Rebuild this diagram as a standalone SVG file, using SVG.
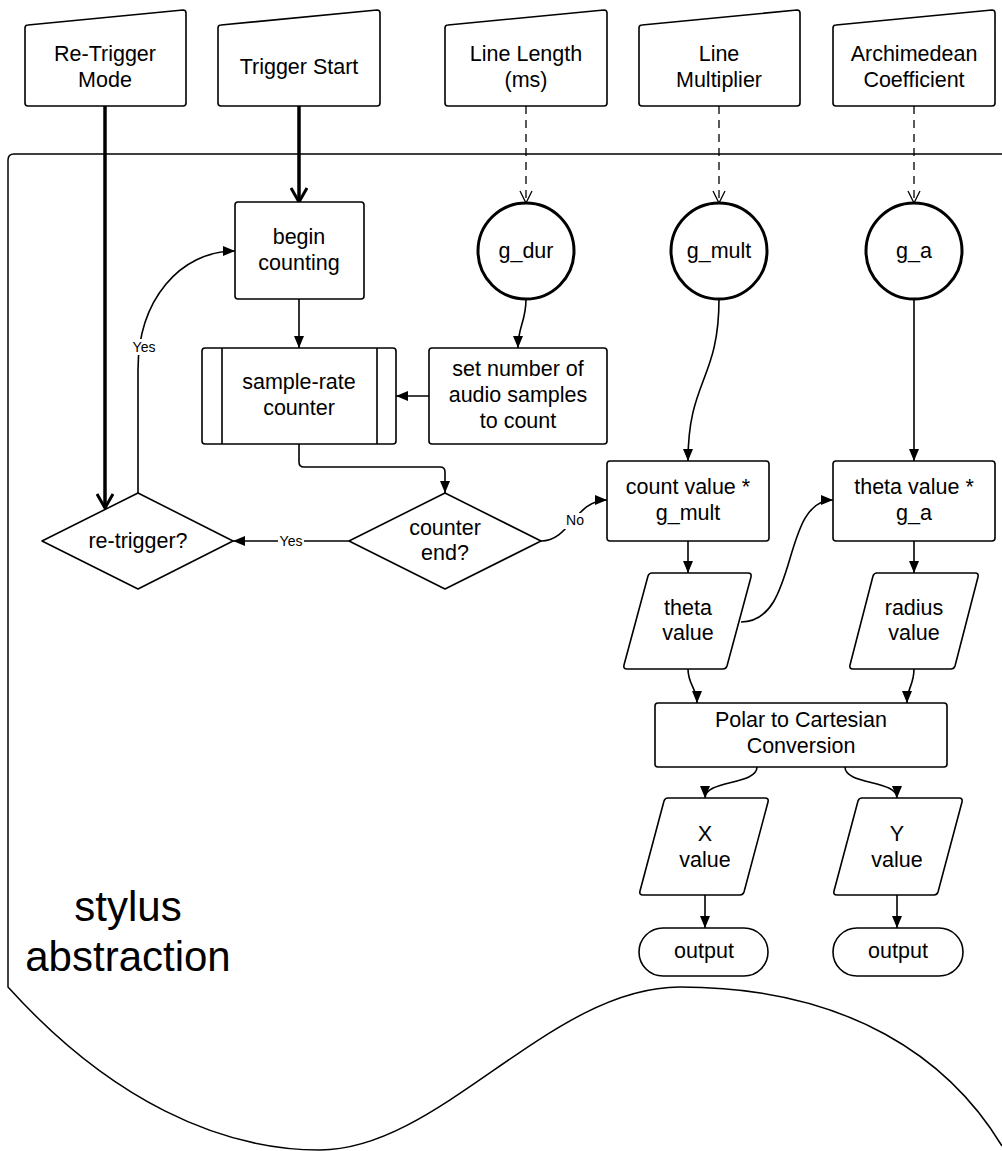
<svg xmlns="http://www.w3.org/2000/svg" width="1002" height="1151" viewBox="0 0 1002 1151">
<defs>
<style>
.n{fill:#fff;stroke:#000;stroke-width:1.6;stroke-linejoin:round}
.c{fill:#fff;stroke:#000;stroke-width:3}
.t{font-family:"Liberation Sans",Arial,sans-serif;font-size:21.5px;fill:#000;text-anchor:middle}
.lb{font-family:"Liberation Sans",Arial,sans-serif;font-size:14px;fill:#000;text-anchor:middle}
.big{font-family:"Liberation Sans",Arial,sans-serif;font-size:42px;fill:#000;text-anchor:middle}
.e{fill:none;stroke:#000;stroke-width:1.6}
.th{fill:none;stroke:#000;stroke-width:3.5}
.d{fill:none;stroke:#000;stroke-width:1.3;stroke-dasharray:8,6}
</style>
<marker id="a" viewBox="0 0 12 12" refX="12" refY="6" markerWidth="12" markerHeight="12" markerUnits="userSpaceOnUse" orient="auto"><path d="M0,1 L12,6 L0,11 Z" fill="#000"/></marker>
<marker id="v" viewBox="0 0 14 14" refX="13" refY="7" markerWidth="14" markerHeight="14" markerUnits="userSpaceOnUse" orient="auto"><path d="M1,1 L13,7 L1,13" fill="none" stroke="#000" stroke-width="1.3"/></marker>
<marker id="V" viewBox="0 0 16 18" refX="15" refY="9" markerWidth="16" markerHeight="18" markerUnits="userSpaceOnUse" orient="auto"><path d="M1,1 L15,9 L1,17" fill="none" stroke="#000" stroke-width="3"/></marker>
</defs>
<rect width="1002" height="1151" fill="#fff"/>
<g id="container">
<path d="M1002,1146 C950,1060 850,987 680,987 C550,987 440,1150 320,1150 C220,1150 110,1100 8,987 L8,160 Q8,154 14,154 L1002,154" fill="none" stroke="#000" stroke-width="1.5"/>
<text class="big" x="128" y="921">stylus</text>
<text class="big" x="128" y="971">abstraction</text>
</g>
<g id="connectors">
<path class="th" d="M105,106 L105,508" marker-end="url(#V)"/>
<path class="th" d="M299,106 L299,202" marker-end="url(#V)"/>
<path class="d" d="M526,106 L526,203" marker-end="url(#v)"/>
<path class="d" d="M719,106 L719,203" marker-end="url(#v)"/>
<path class="d" d="M914,106 L914,203" marker-end="url(#v)"/>
<path class="e" d="M299,299 L299,348" marker-end="url(#a)"/>
<path class="e" d="M526,299 C526,322 518,326 518,348" marker-end="url(#a)"/>
<path class="e" d="M429,396 L396,396" marker-end="url(#a)"/>
<path class="e" d="M299,444 L299,462 Q299,467 304,467 L440,467 Q445,467 445,472 L445,493" marker-end="url(#a)"/>
<path class="e" d="M349,541 L233,541" marker-end="url(#a)"/>
<path class="e" d="M138,493 L138,370 C138,300 180,251 235,251" marker-end="url(#a)"/>
<path class="e" d="M541,541 C570,541 575,500 607,500" marker-end="url(#a)"/>
<path class="e" d="M719,299 C719,380 688,380 688,461" marker-end="url(#a)"/>
<path class="e" d="M914,299 L914,461" marker-end="url(#a)"/>
<path class="e" d="M688,541 L688,573" marker-end="url(#a)"/>
<path class="e" d="M914,541 L914,573" marker-end="url(#a)"/>
<path class="e" d="M741,622 C800,622 780,500 833,500" marker-end="url(#a)"/>
<path class="e" d="M688,669 C688,685 697,688 697,703" marker-end="url(#a)"/>
<path class="e" d="M914,669 C914,685 907,688 907,703" marker-end="url(#a)"/>
<path class="e" d="M757,767 C757,785 705,780 705,798" marker-end="url(#a)"/>
<path class="e" d="M845,767 C845,785 897,780 897,798" marker-end="url(#a)"/>
<path class="e" d="M705,895 L705,928" marker-end="url(#a)"/>
<path class="e" d="M897,895 L897,928" marker-end="url(#a)"/>
<rect x="278" y="533" width="26" height="16" fill="#fff"/>
<text class="lb" x="291" y="546">Yes</text>
<rect x="130" y="339" width="28" height="16" fill="#fff"/>
<text class="lb" x="144" y="352">Yes</text>
<rect x="564" y="513" width="22" height="16" fill="#fff"/>
<text class="lb" x="575" y="525">No</text>
</g>
<g id="in-retrigger-mode">
<path class="n" d="M28,25 L183,10 Q186,10 186,13 L186,103 Q186,106 183,106 L28,106 Q25,106 25,103 L25,28 Q25,25 28,25 Z"/>
<text class="t" x="105" y="61">Re-Trigger</text><text class="t" x="105" y="87">Mode</text>
</g>
<g id="in-trigger-start">
<path class="n" d="M221,25 L377,10 Q380,10 380,13 L380,103 Q380,106 377,106 L221,106 Q218,106 218,103 L218,28 Q218,25 221,25 Z"/>
<text class="t" x="299" y="74">Trigger Start</text>
</g>
<g id="in-line-length">
<path class="n" d="M448,25 L604,10 Q607,10 607,13 L607,103 Q607,106 604,106 L448,106 Q445,106 445,103 L445,28 Q445,25 448,25 Z"/>
<text class="t" x="526" y="61">Line Length</text><text class="t" x="526" y="87">(ms)</text>
</g>
<g id="in-line-multiplier">
<path class="n" d="M642,25 L797,10 Q800,10 800,13 L800,103 Q800,106 797,106 L642,106 Q639,106 639,103 L639,28 Q639,25 642,25 Z"/>
<text class="t" x="719" y="61">Line</text><text class="t" x="719" y="87">Multiplier</text>
</g>
<g id="in-archimedean">
<path class="n" d="M836,25 L992,10 Q995,10 995,13 L995,103 Q995,106 992,106 L836,106 Q833,106 833,103 L833,28 Q833,25 836,25 Z"/>
<text class="t" x="914" y="61">Archimedean</text><text class="t" x="914" y="87">Coefficient</text>
</g>
<g id="g-dur"><circle class="c" cx="526" cy="251" r="48"/><text class="t" x="526" y="258">g_dur</text></g>
<g id="g-mult"><circle class="c" cx="719" cy="251" r="48"/><text class="t" x="719" y="258">g_mult</text></g>
<g id="g-a"><circle class="c" cx="914" cy="251" r="48"/><text class="t" x="914" y="258">g_a</text></g>
<g id="begin-counting">
<rect class="n" x="235" y="202" width="129" height="97" rx="3"/>
<text class="t" x="299" y="244">begin</text><text class="t" x="299" y="270">counting</text>
</g>
<g id="sample-rate-counter">
<rect class="n" x="202" y="348" width="194" height="96" rx="3"/>
<path class="e" d="M222,348 L222,444 M377,348 L377,444"/>
<text class="t" x="299" y="389">sample-rate</text><text class="t" x="299" y="415">counter</text>
</g>
<g id="set-number">
<rect class="n" x="429" y="348" width="178" height="96" rx="3"/>
<text class="t" x="518" y="376">set number of</text><text class="t" x="518" y="402">audio samples</text><text class="t" x="518" y="428">to count</text>
</g>
<g id="counter-end">
<path class="n" d="M445,493 L541,541 L445,589 L349,541 Z"/>
<text class="t" x="445" y="535">counter</text><text class="t" x="445" y="560">end?</text>
</g>
<g id="re-trigger">
<path class="n" d="M138,493 L233,541 L138,589 L42,541 Z"/>
<text class="t" x="138" y="548">re-trigger?</text>
</g>
<g id="count-value">
<rect class="n" x="607" y="461" width="162" height="80" rx="3"/>
<text class="t" x="688" y="494">count value *</text><text class="t" x="688" y="520">g_mult</text>
</g>
<g id="theta-value-mult">
<rect class="n" x="833" y="461" width="162" height="80" rx="3"/>
<text class="t" x="914" y="494">theta value *</text><text class="t" x="914" y="520">g_a</text>
</g>
<g id="theta-value">
<path class="n" d="M652,573 L748,573 Q752,573 751,577 L727,666 Q726,669 723,669 L627,669 Q623,669 624,665 L648,576 Q649,573 652,573 Z"/>
<text class="t" x="688" y="615">theta</text><text class="t" x="688" y="640">value</text>
</g>
<g id="radius-value">
<path class="n" d="M877,573 L975,573 Q979,573 978,577 L955,666 Q954,669 951,669 L853,669 Q849,669 850,665 L873,576 Q874,573 877,573 Z"/>
<text class="t" x="914" y="615">radius</text><text class="t" x="914" y="640">value</text>
</g>
<g id="polar-to-cartesian">
<rect class="n" x="655" y="703" width="292" height="64" rx="3"/>
<text class="t" x="801" y="727">Polar to Cartesian</text><text class="t" x="801" y="753">Conversion</text>
</g>
<g id="x-value">
<path class="n" d="M668,798 L765,798 Q769,798 768,802 L744,892 Q743,895 740,895 L643,895 Q639,895 640,891 L664,801 Q665,798 668,798 Z"/>
<text class="t" x="705" y="841">X</text><text class="t" x="705" y="867">value</text>
</g>
<g id="y-value">
<path class="n" d="M862,798 L959,798 Q963,798 962,802 L938,892 Q937,895 934,895 L837,895 Q833,895 834,891 L858,801 Q859,798 862,798 Z"/>
<text class="t" x="897" y="841">Y</text><text class="t" x="897" y="867">value</text>
</g>
<g id="output-x"><rect class="n" x="639" y="928" width="129" height="48" rx="24"/><text class="t" x="704" y="958">output</text></g>
<g id="output-y"><rect class="n" x="833" y="928" width="130" height="48" rx="24"/><text class="t" x="898" y="958">output</text></g>
</svg>
